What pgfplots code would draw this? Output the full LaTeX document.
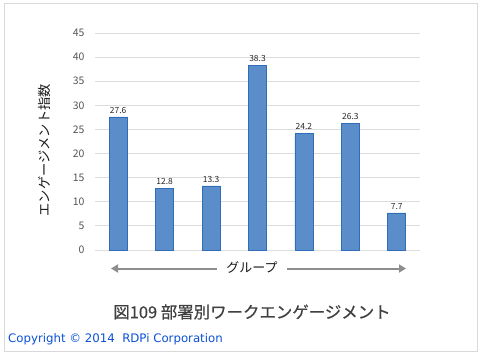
\documentclass[border=0pt]{standalone}
\usepackage{pgfplots}
\pgfplotsset{compat=1.18}
\usepackage{fontspec}
\setmainfont{Noto Sans CJK JP}
\newfontfamily\titlefont[FakeBold=0.6]{Noto Sans CJK JP}
\newfontfamily\dejavu{DejaVu Sans}
\usetikzlibrary{arrows.meta}
\definecolor{barfill}{HTML}{5A8DCA}
\definecolor{bardraw}{HTML}{2F6DB8}
\definecolor{gridc}{HTML}{DDDDDD}
\definecolor{tickc}{HTML}{555555}
\definecolor{copyc}{HTML}{0A50D4}
\definecolor{arrowc}{HTML}{8E8E8E}
\begin{document}
\begin{tikzpicture}[x=1bp,y=1bp]
\draw[draw=black!15, line width=0.8bp] (4,3) rectangle (477,351);
\path (0,0) rectangle (481,354);
\begin{axis}[
  at={(95bp,104bp)}, anchor=south west,
  scale only axis, width=325bp, height=217bp,
  xmin=-0.5, xmax=6.5, ymin=0, ymax=45,
  ytick={0,5,...,45},
  xtick=\empty,
  axis line style={draw=none},
  ymajorgrids, grid style={gridc, line width=0.8bp},
  major tick length=0pt,
  yticklabel style={font=\fontsize{10.5}{12}\selectfont, text=tickc, xshift=-7bp},
  /pgf/number format/assume math mode=true,
  ybar, bar width=18bp,
  nodes near coords,
  nodes near coords style={font=\fontsize{8.5}{10}\selectfont, text=black!85, /pgf/number format/fixed, /pgf/number format/precision=1, /pgf/number format/fixed zerofill},
  clip=false,
]
\addplot[fill=barfill, draw=bardraw, line width=0.6bp] coordinates {(0,27.6) (1,12.8) (2,13.3) (3,38.3) (4,24.2) (5,26.3) (6,7.7)};
\node[rotate=90, font=\fontsize{13.3}{15}\selectfont, text=black!90] at (axis description cs:-0.155,0.46) {エンゲージメント指数};
\end{axis}
\draw[arrowc, line width=2bp, -{Triangle[length=7bp,width=8bp]}] (215,85.5) -- (406,85.5);
\draw[arrowc, line width=2bp, -{Triangle[length=7bp,width=8bp]}] (288,85.5) -- (111,85.5);
\node[fill=white, inner xsep=9bp, font=\fontsize{13}{15}\selectfont, text=black!90] at (252,86) {グループ};
\node[font=\titlefont\fontsize{16.5}{19}\selectfont, text=black!75] at (252,42) {図109 部署別ワークエンゲージメント};
\node[anchor=west, inner sep=0pt, font=\dejavu\fontsize{11.8}{14}\selectfont, text=copyc] at (8,15) {Copyright © 2014\ \ RDPi Corporation};
\end{tikzpicture}
\end{document}
